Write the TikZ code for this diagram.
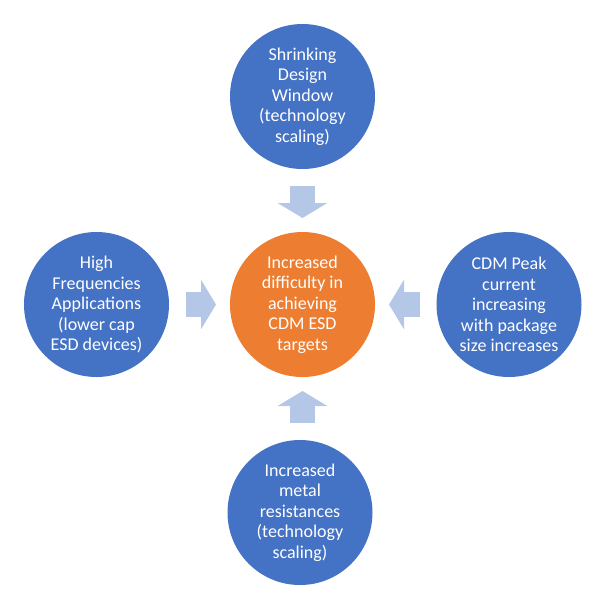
\documentclass[tikz,border=0pt]{standalone}
\usepackage{fontspec}
\setmainfont{Carlito}
\usetikzlibrary{positioning, arrows.meta, calc}
\definecolor{causeblue}{HTML}{4472C4}
\definecolor{huborange}{HTML}{ED7D31}
\definecolor{pushblue}{HTML}{B4C7E7}

\begin{document}
\begin{tikzpicture}[x=1pt, y=-1pt,
	bubble/.style={circle, minimum size=145pt, inner sep=0pt, outer sep=0pt, fill=causeblue, text=white, align=center, font=\fontsize{18}{20.5}\selectfont},
	push/.style={draw=pushblue, line width=25pt, -{Triangle[width=49pt, length=15pt]}, shorten <=17pt, shorten >=14pt}]
	\useasboundingbox (0,0) rectangle (600,595);
	\node[bubble, fill=huborange] (hub) at (302.5, 304.5) {Increased\\difficulty in\\achieving\\CDM ESD\\targets};
	\node[bubble] (top) at (302.5, 96.5) {Shrinking\\Design\\Window\\(technology\\scaling)};
	\node[bubble] (left) at (96.5, 304.5) {High\\Frequencies\\Applications\\(lower cap\\ESD devices)};
	\node[bubble] (right) at (509, 304.5) {CDM Peak\\current\\increasing\\with package\\size increases};
	\node[bubble] (bottom) at (300, 512.5) {Increased\\metal\\resistances\\(technology\\scaling)};
	\draw[push] (top) -- (hub);
	\draw[push] (left) -- (hub);
	\draw[push] (right) -- (hub);
	\draw[push] (hub |- bottom.north) -- (hub.south);
\end{tikzpicture}
\end{document}
